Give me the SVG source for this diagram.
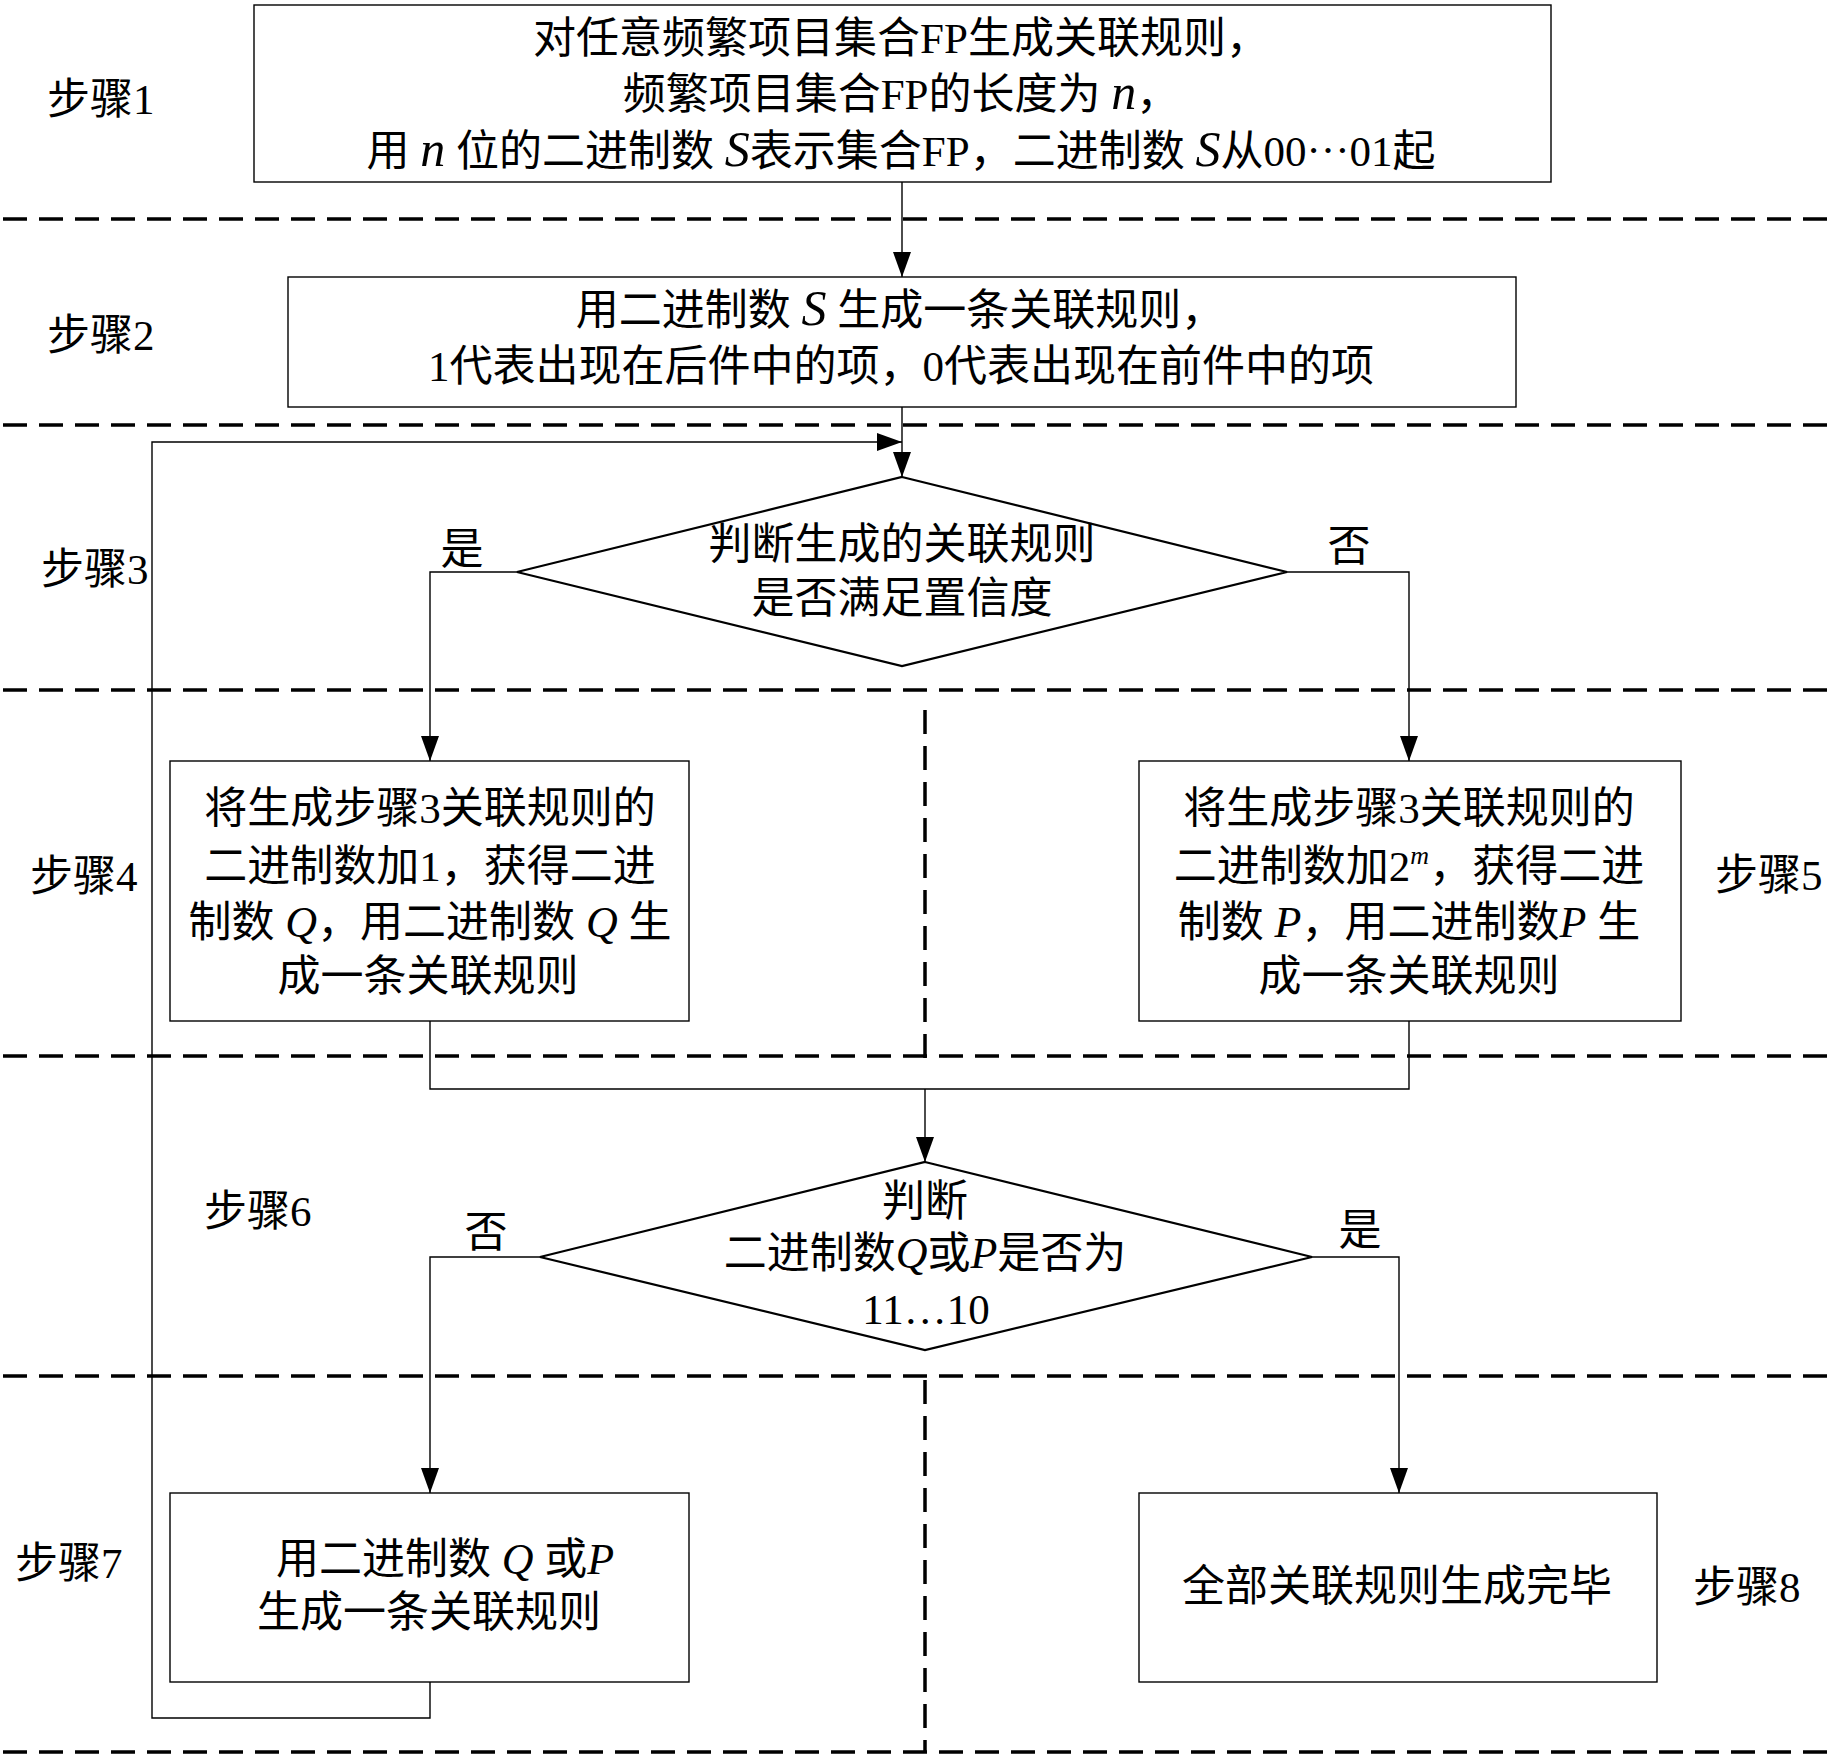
<svg xmlns="http://www.w3.org/2000/svg" width="1831" height="1759" viewBox="0 0 1831 1759">
<style>
.t{font-family:"Liberation Serif","Noto Sans CJK SC",serif;font-size:43px;fill:#000}
.m{font-style:italic;font-size:50px}
.q{font-style:italic;font-size:44px}
.sup{font-style:italic;font-size:26px}
.box{fill:#fff;stroke:#000;stroke-width:1.4}
.dia{fill:#fff;stroke:#000;stroke-width:2.2}
.con{fill:none;stroke:#000;stroke-width:1.4}
.dash{fill:none;stroke:#000;stroke-width:3.5;stroke-dasharray:24 12}
</style>
<defs>
<marker id="ah" markerUnits="userSpaceOnUse" markerWidth="26" markerHeight="18" refX="25" refY="9" orient="auto">
<path d="M0,0 L25,9 L0,18 z" fill="#000"/>
</marker>
</defs>
<rect width="1831" height="1759" fill="#fff"/>
<g id="dividers">
<path class="dash" d="M3,219 H1831"/>
<path class="dash" d="M3,425 H1831"/>
<path class="dash" d="M3,690 H1831"/>
<path class="dash" d="M3,1056 H1831"/>
<path class="dash" d="M3,1376 H1831"/>
<path class="dash" d="M3,1752 H1831"/>
<path class="dash" d="M925,710 V1058"/>
<path class="dash" d="M925,1380 V1752"/>
</g>
<g id="labels" class="t">
<text x="47" y="114">步骤1</text>
<text x="47" y="350">步骤2</text>
<text x="41" y="584">步骤3</text>
<text x="30" y="891">步骤4</text>
<text x="1715" y="890">步骤5</text>
<text x="204" y="1226">步骤6</text>
<text x="15" y="1578">步骤7</text>
<text x="1693" y="1602">步骤8</text>
</g>
<g id="connectors">
<path class="con" d="M902,182 V277" marker-end="url(#ah)"/>
<path class="con" d="M902,407 V477" marker-end="url(#ah)"/>
<path class="con" d="M517,572 H430 V761" marker-end="url(#ah)"/>
<path class="con" d="M1287,572 H1409 V761" marker-end="url(#ah)"/>
<path class="con" d="M430,1021 V1089 H1409 V1021"/>
<path class="con" d="M925,1089 V1162" marker-end="url(#ah)"/>
<path class="con" d="M540,1257 H430 V1493" marker-end="url(#ah)"/>
<path class="con" d="M1312,1257 H1399 V1493" marker-end="url(#ah)"/>
<path class="con" d="M430,1682 V1718 H152 V442 H902" marker-end="url(#ah)"/>
<g class="t">
<text x="462" y="564" text-anchor="middle">是</text>
<text x="1349" y="561" text-anchor="middle">否</text>
<text x="486" y="1247" text-anchor="middle">否</text>
<text x="1360" y="1245" text-anchor="middle">是</text>
</g>
</g>
<g id="step1" class="t" text-anchor="middle">
<rect class="box" x="254" y="5" width="1297" height="177"/>
<text x="901" y="53">对任意频繁项目集合FP生成关联规则，</text>
<text x="901" y="109">频繁项目集合FP的长度为 <tspan class="m">n</tspan>，</text>
<text x="901" y="166">用 <tspan class="m">n</tspan> 位的二进制数 <tspan class="m">S</tspan>表示集合FP，二进制数 <tspan class="m">S</tspan>从00<tspan dy="-13">…</tspan><tspan dy="13">01起</tspan></text>
</g>
<g id="step2" class="t" text-anchor="middle">
<rect class="box" x="288" y="277" width="1228" height="130"/>
<text x="900" y="325">用二进制数 <tspan class="m">S</tspan> 生成一条关联规则，</text>
<text x="901" y="381">1代表出现在后件中的项，0代表出现在前件中的项</text>
</g>
<g id="step3" class="t" text-anchor="middle">
<polygon class="dia" points="902,477 1287,572 902,666 517,572"/>
<text x="902" y="559">判断生成的关联规则</text>
<text x="902" y="613">是否满足置信度</text>
</g>
<g id="step4" class="t" text-anchor="middle">
<rect class="box" x="170" y="761" width="519" height="260"/>
<text x="430" y="823">将生成步骤3关联规则的</text>
<text x="430" y="881">二进制数加1，获得二进</text>
<text x="430" y="937">制数 <tspan class="q">Q</tspan>，用二进制数 <tspan class="q">Q</tspan> 生</text>
<text x="428" y="991">成一条关联规则</text>
</g>
<g id="step5" class="t" text-anchor="middle">
<rect class="box" x="1139" y="761" width="542" height="260"/>
<text x="1409" y="823">将生成步骤3关联规则的</text>
<text x="1409" y="881">二进制数加2<tspan class="sup" dy="-17">m</tspan><tspan dy="17">，获得二进</tspan></text>
<text x="1409" y="937">制数 <tspan class="q">P</tspan>，用二进制数<tspan class="q">P</tspan> 生</text>
<text x="1409" y="991">成一条关联规则</text>
</g>
<g id="step6" class="t" text-anchor="middle">
<polygon class="dia" points="925,1162 1312,1257 925,1350 540,1257"/>
<text x="925" y="1216">判断</text>
<text x="925" y="1268">二进制数<tspan class="q">Q</tspan>或<tspan class="q">P</tspan>是否为</text>
<text x="926" y="1324">11…10</text>
</g>
<g id="step7" class="t" text-anchor="middle">
<rect class="box" x="170" y="1493" width="519" height="189"/>
<text x="445" y="1574">用二进制数 <tspan class="q">Q</tspan> 或<tspan class="q">P</tspan></text>
<text x="429" y="1627">生成一条关联规则</text>
</g>
<g id="step8" class="t" text-anchor="middle">
<rect class="box" x="1139" y="1493" width="518" height="189"/>
<text x="1397" y="1601">全部关联规则生成完毕</text>
</g>
</svg>
